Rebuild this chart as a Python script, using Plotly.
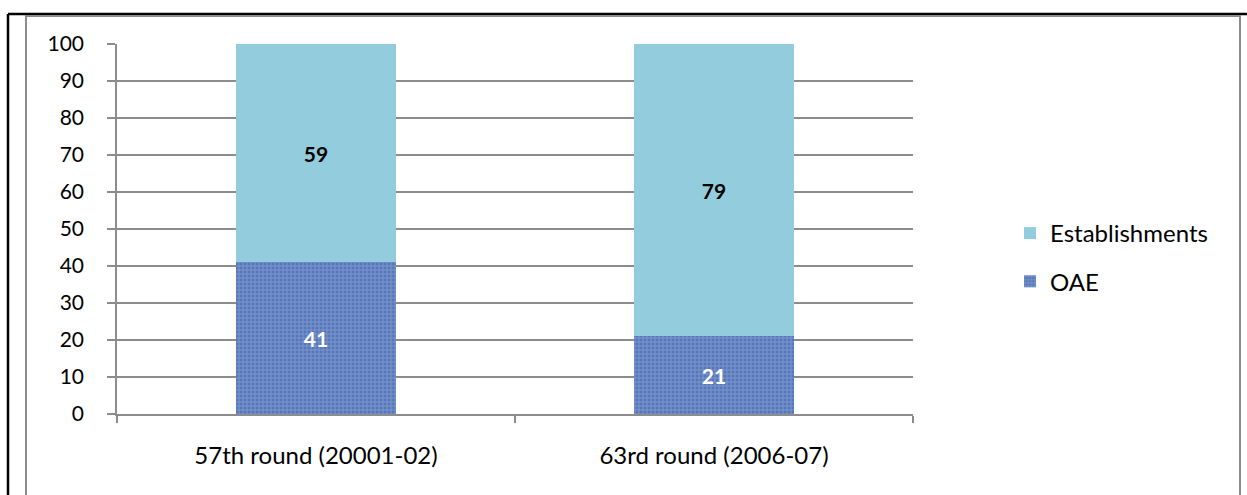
import plotly.graph_objects as go

categories = ["57th round (20001-02)", "63rd round (2006-07)"]
oae = [41, 21]
establishments = [59, 79]
y_ticks = [0, 10, 20, 30, 40, 50, 60, 70, 80, 90, 100]

FONT = "Lato"
W, H = 1247, 495
L, R, T, B = 117, 913, 44, 414  # plot area pixels

def px(x):
    return (x - L) / (R - L)

def py(y):
    return (B - y) / (B - T)

fig = go.Figure()
fig.add_trace(go.Bar(
    x=categories, y=oae, name="OAE",
    legendgroup="b", legendrank=2,
    marker=dict(color="#5B7FBE", line=dict(width=0),
                pattern=dict(shape="+", bgcolor="#5676B8", fgcolor="#A3BDE6",
                             size=4, solidity=0.4, fillmode="overlay")),
    text=[str(v) for v in oae], textposition="inside", insidetextanchor="middle",
    textfont=dict(family=FONT, size=21, color="white", weight="bold"),
    hoverinfo="skip",
))
fig.add_trace(go.Bar(
    x=categories, y=establishments, name="Establishments",
    legendgroup="a", legendrank=1,
    marker=dict(color="#93CDDD", line=dict(width=0)),
    text=[str(v) for v in establishments], textposition="inside", insidetextanchor="middle",
    textfont=dict(family=FONT, size=21, color="black", weight="bold"),
    hoverinfo="skip",
))

shapes = [
    # outer black frame
    dict(type="line", xref="paper", yref="paper", x0=px(8), x1=px(1250), y0=py(14), y1=py(14),
         line=dict(color="black", width=2.5)),
    dict(type="line", xref="paper", yref="paper", x0=px(8), x1=px(8), y0=py(14), y1=py(500),
         line=dict(color="black", width=2.5)),
    # gray chart border
    dict(type="rect", xref="paper", yref="paper", x0=px(26), x1=px(1240), y0=py(16), y1=py(520),
         line=dict(color="#8C8C8C", width=2), fillcolor="rgba(0,0,0,0)"),
]

fig.update_layout(
    width=W, height=H,
    margin=dict(l=L, r=W - R, t=T, b=H - B, autoexpand=False),
    paper_bgcolor="white", plot_bgcolor="white",
    barmode="stack", bargap=0.6,
    font=dict(family=FONT, size=21, color="black"),
    showlegend=True,
    legend=dict(x=px(1010), y=py(211), xanchor="left", yanchor="top",
                traceorder="grouped", tracegroupgap=14,
                font=dict(family=FONT, size=24, color="black"),
                itemwidth=30, bgcolor="rgba(0,0,0,0)"),
    shapes=shapes,
)
fig.update_yaxes(
    range=[0, 100], tickvals=y_ticks, ticktext=[str(v) for v in y_ticks],
    showgrid=True, gridcolor="#8C8C8C", gridwidth=1.5,
    showline=True, linecolor="#8C8C8C", linewidth=1.5,
    ticks="outside", ticklen=8, tickcolor="#8C8C8C", tickwidth=1.5,
    ticklabelstandoff=19,
    tickfont=dict(family=FONT, size=21, color="black"),
    zeroline=False, fixedrange=True,
)
fig.update_xaxes(
    showline=True, linecolor="#8C8C8C", linewidth=1.5,
    ticks="outside", ticklen=7, tickcolor="#8C8C8C", tickwidth=1.5,
    tickson="boundaries", ticklabelstandoff=19,
    tickfont=dict(family=FONT, size=24, color="black"),
    showgrid=False, fixedrange=True,
)

fig.write_html(
    "out.html",
    config={"displayModeBar": False},
    post_script="document.body.style.margin='0';document.body.style.overflow='hidden';",
)
